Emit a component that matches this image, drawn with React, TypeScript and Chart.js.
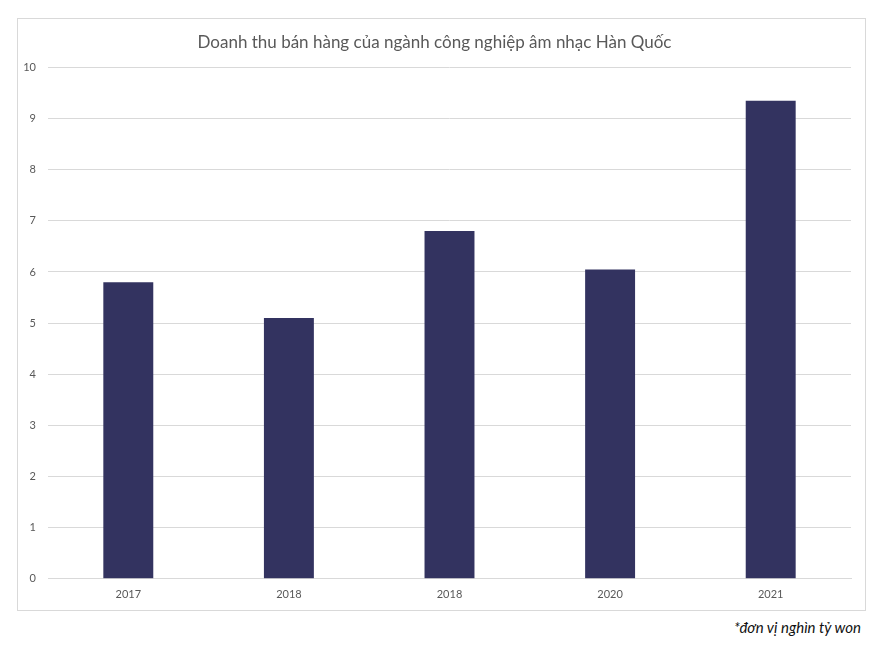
import React, { useEffect, useRef } from "react";
import { Chart, registerables } from "chart.js";

Chart.register(...registerables);

const categories = ["2017", "2018", "2018", "2020", "2021"];
const revenue = [5.8, 5.1, 6.8, 6.05, 9.35];
const yTicks = [0, 1, 2, 3, 4, 5, 6, 7, 8, 9, 10];
const titleText = "Doanh thu bán hàng của ngành công nghiệp âm nhạc Hàn Quốc";
const noteText = "*đơn vị nghìn tỷ won";

export default function App() {
  const ref = useRef<HTMLCanvasElement | null>(null);

  useEffect(() => {
    if (!ref.current) return;
    const chart = new Chart(ref.current, {
      type: "bar",
      data: {
        labels: categories,
        datasets: [
          {
            data: revenue,
            backgroundColor: "#333360",
            borderWidth: 0,
            barPercentage: 1,
            categoryPercentage: 0.311,
          },
        ],
      },
      options: {
        animation: false,
        responsive: false,
        maintainAspectRatio: false,
        layout: { padding: { left: 0, right: 14, top: 0, bottom: 0 } },
        plugins: {
          legend: { display: false },
          tooltip: { enabled: false },
          title: {
            display: true,
            text: titleText,
            color: "#595959",
            font: { family: "Lato", size: 17, weight: "normal" },
            padding: { top: 13, bottom: 15 },
          },
        },
        scales: {
          x: {
            grid: { display: false, drawTicks: false },
            border: { display: true, color: "#d9d9d9", width: 1 },
            ticks: {
              color: "#595959",
              font: { family: "Lato", size: 11 },
              padding: 9,
              maxRotation: 0,
            },
          },
          y: {
            min: 0,
            max: 10,
            afterBuildTicks: (scale: any) => {
              scale.ticks = yTicks.map((v) => ({ value: v }));
            },
            afterFit: (scale: any) => {
              scale.width = 30;
            },
            grid: { color: "#d9d9d9", drawTicks: false, lineWidth: 1 },
            border: { display: false },
            ticks: {
              color: "#595959",
              font: { family: "Lato", size: 11 },
              padding: 12,
            },
          },
        },
      },
    });
    return () => chart.destroy();
  }, []);

  return (
    <div style={{ position: "absolute", left: 0, top: 0, width: 889, height: 647, background: "#fff" }}>
      <div
        style={{
          position: "absolute",
          left: 17,
          top: 18,
          width: 847,
          height: 591,
          border: "1px solid #d9d9d9",
        }}
      >
        <canvas ref={ref} width={847} height={591} style={{ display: "block" }} />
      </div>
      <div
        style={{
          position: "absolute",
          right: 28,
          top: 618,
          fontFamily: "Lato",
          fontStyle: "italic",
          fontSize: 15,
          color: "#111",
        }}
      >
        {noteText}
      </div>
    </div>
  );
}
